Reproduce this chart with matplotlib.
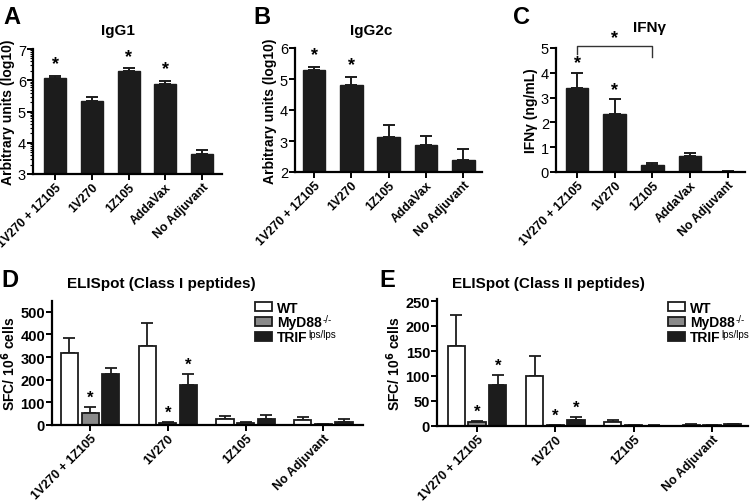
import numpy as np
import matplotlib
matplotlib.use("Agg")
import matplotlib.pyplot as plt
from matplotlib.patches import Rectangle
from matplotlib.text import Annotation

plt.rcParams['font.family'] = ['Liberation Sans', 'DejaVu Sans']

# top row data
groups5 = ['1V270 + 1Z105', '1V270', '1Z105', 'AddaVax', 'No Adjuvant']
igg1 = [6.07, 5.35, 6.30, 5.88, 3.65]
igg1_err = [0.07, 0.12, 0.08, 0.10, 0.13]
igg1_star = [True, False, True, True, False]

igg2c = [5.30, 4.80, 3.13, 2.87, 2.40]
igg2c_err = [0.10, 0.28, 0.38, 0.28, 0.35]
igg2c_star = [True, True, False, False, False]

ifng = [3.40, 2.33, 0.30, 0.65, 0.02]
ifng_err = [0.60, 0.60, 0.05, 0.12, 0.01]
ifng_star = [True, True, False, False, False]

# bottom row data
groups4 = ['1V270 + 1Z105', '1V270', '1Z105', 'No Adjuvant']
strains = ['WT', 'MyD88', 'TRIF']
strain_sup = ['', '-/-', 'lps/lps']
strain_colors = ['white', '#8a8a8a', '#1c1c1c']
d_wt = [318, 350, 27, 22]
d_wt_err = [68, 100, 12, 13]
d_myd = [52, 10, 10, 4]
d_myd_err = [28, 5, 4, 2]
d_trif = [225, 175, 27, 15]
d_trif_err = [25, 52, 17, 10]
d_star = {'myd': [0, 1], 'trif': [1]}

e_wt = [160, 100, 9, 3]
e_wt_err = [62, 40, 3, 1]
e_myd = [8, 2, 1.5, 2]
e_myd_err = [3, 1, 0.5, 1]
e_trif = [82, 12, 1, 4]
e_trif_err = [20, 6, 0.5, 1]
e_star = {'myd': [0, 1], 'trif': [0, 1]}

W, H = 750, 502
fig = plt.figure(figsize=(7.5, 5.02), dpi=100)


def px_axes(l, r, t, b):
    return fig.add_axes([l / W, 1 - b / H, (r - l) / W, (b - t) / H])


def style(ax, xsize, bold_ticks=False):
    ax.spines['top'].set_visible(False)
    ax.spines['right'].set_visible(False)
    ax.spines['left'].set_linewidth(1.6)
    ax.spines['bottom'].set_linewidth(1.6)
    ax.tick_params(axis='y', direction='out', width=1.4, length=4, labelsize=10.5, pad=1)
    ax.tick_params(axis='x', direction='out', width=1.4, length=4, labelsize=xsize, pad=1)
    for lab in ax.get_xticklabels():
        lab.set_fontweight('bold')
    if bold_ticks:
        for lab in ax.get_yticklabels():
            lab.set_fontweight('bold')


def top_panel(ax, vals, errs, stars, ylim, xlim, ylabel, star_pad):
    x = np.arange(len(vals))
    ax.bar(x, [v - ylim[0] for v in vals], bottom=ylim[0], width=0.6,
           color='#1c1c1c', edgecolor='#1c1c1c', zorder=2)
    ax.errorbar(x, vals, yerr=[np.zeros(len(errs)), errs], fmt='none',
                ecolor='#1c1c1c', elinewidth=1.4, capsize=4, capthick=1.4, zorder=1)
    for i, s in enumerate(stars):
        if s:
            ax.text(x[i], vals[i] + errs[i] + star_pad, '*', ha='center', va='bottom',
                    fontsize=13, fontweight='bold')
    ax.set_ylim(*ylim)
    ax.set_xlim(*xlim)
    ax.set_xticks(x)
    ax.set_xticklabels(groups5, rotation=45, ha='right', rotation_mode='anchor')
    ax.set_ylabel(ylabel, fontsize=10, fontweight='bold', labelpad=2)
    style(ax, 8.8)


# A
axA = px_axes(33, 222, 50, 175)
top_panel(axA, igg1, igg1_err, igg1_star, (3, 7), (-0.6, 4.54),
          'Arbitrary units (log10)', 0.12)
axA.set_yticks([3, 4, 5, 6, 7])
minor = [n + np.log10(k) for n in range(3, 7) for k in range(2, 10)]
axA.set_yticks(minor, minor=True)
axA.tick_params(axis='y', which='minor', length=2.5, width=0.8)

# B
axB = px_axes(295, 482, 49, 173)
top_panel(axB, igg2c, igg2c_err, igg2c_star, (2, 6), (-0.51, 4.5),
          'Arbitrary units (log10)', 0.12)
axB.set_yticks([2, 3, 4, 5, 6])

# C
axC = px_axes(556, 745, 49, 173)
top_panel(axC, ifng, ifng_err, ifng_star, (0, 5), (-0.56, 4.46),
          'IFNγ (ng/mL)', 0.05)
axC.set_yticks([0, 1, 2, 3, 4, 5])
axC.plot([0, 0, 2, 2], [4.77, 5.07, 5.07, 4.63], color='#333333', lw=1.0, clip_on=False)
axC.text(1.0, 5.08, '*', ha='center', va='bottom', fontsize=13, fontweight='bold')


def bottom_panel(ax, wt, wte, myd, myde, trif, trife, stars, ylim, xlim, yticks, star_pad):
    x = np.arange(len(wt))
    off = 0.265
    w = 0.22
    sets = [(wt, wte, -off), (myd, myde, 0), (trif, trife, off)]
    for (v, e, o), c in zip(sets, strain_colors):
        ax.bar(x + o, v, width=w, color=c, edgecolor='#1c1c1c', linewidth=1.3, zorder=2)
        ax.errorbar(x + o, v, yerr=[np.zeros(len(e)), e], fmt='none',
                    ecolor='#1c1c1c', elinewidth=1.3, capsize=4, capthick=1.3, zorder=1)
    for key, o, v, e in [('myd', 0, myd, myde), ('trif', off, trif, trife)]:
        for i in stars[key]:
            ax.text(x[i] + o, v[i] + e[i] + star_pad, '*', ha='center', va='bottom',
                    fontsize=12, fontweight='bold')
    ax.set_ylim(*ylim)
    ax.set_xlim(*xlim)
    ax.set_yticks(yticks)
    ax.set_xticks(x)
    ax.set_xticklabels(groups4, rotation=45, ha='right', rotation_mode='anchor')
    ax.set_ylabel('SFC/ 10$^{\\mathbf{6}}$ cells', fontsize=10, fontweight='bold', labelpad=2)
    style(ax, 9, bold_ticks=True)


# D
axD = px_axes(52, 363, 302, 426)
bottom_panel(axD, d_wt, d_wt_err, d_myd, d_myd_err, d_trif, d_trif_err, d_star,
             (0, 548), (-0.49, 3.51), [0, 100, 200, 300, 400, 500], 8)

# E
axE = px_axes(437, 748, 300, 427)
bottom_panel(axE, e_wt, e_wt_err, e_myd, e_myd_err, e_trif, e_trif_err, e_star,
             (0, 254), (-0.51, 3.46), [0, 50, 100, 150, 200, 250], 4)

# legends, drawn in figure pixels: box, bold name, small superscript
for lx in (255, 668):
    for name, sup, col, y in zip(strains, strain_sup, strain_colors, [307.5, 322, 337]):
        fig.add_artist(Rectangle((lx / W, 1 - (y + 4.5) / H), 17 / W, 9 / H,
                                 transform=fig.transFigure, facecolor=col,
                                 edgecolor='#1c1c1c', linewidth=1.3))
        t = fig.text((lx + 22) / W, 1 - y / H, name, ha='left', va='center_baseline',
                     fontsize=10, fontweight='bold')
        if sup:
            fig.add_artist(Annotation(sup, xy=(1.0, 0.72), xycoords=t, xytext=(0.5, 0),
                                      textcoords='offset points', ha='left', va='center',
                                      fontsize=7))

# titles and panel letters
fig.text(118 / W, 1 - 31 / H, 'IgG1', ha='center', va='center', fontsize=11, fontweight='bold')
fig.text(371 / W, 1 - 31 / H, 'IgG2c', ha='center', va='center', fontsize=11, fontweight='bold')
fig.text(650 / W, 1 - 28 / H, 'IFNγ', ha='center', va='center', fontsize=11, fontweight='bold')
fig.text(161 / W, 1 - 284 / H, 'ELISpot (Class I peptides)', ha='center', va='center',
         fontsize=11, fontweight='bold')
fig.text(548 / W, 1 - 284 / H, 'ELISpot (Class II peptides)', ha='center', va='center',
         fontsize=11, fontweight='bold')
for lab, x, y in [('A', 12, 17), ('B', 262, 17), ('C', 522, 17), ('D', 10, 281), ('E', 387, 281)]:
    fig.text(x / W, 1 - y / H, lab, ha='center', va='center', fontsize=17, fontweight='bold')

fig.savefig('out.png', dpi=100)
